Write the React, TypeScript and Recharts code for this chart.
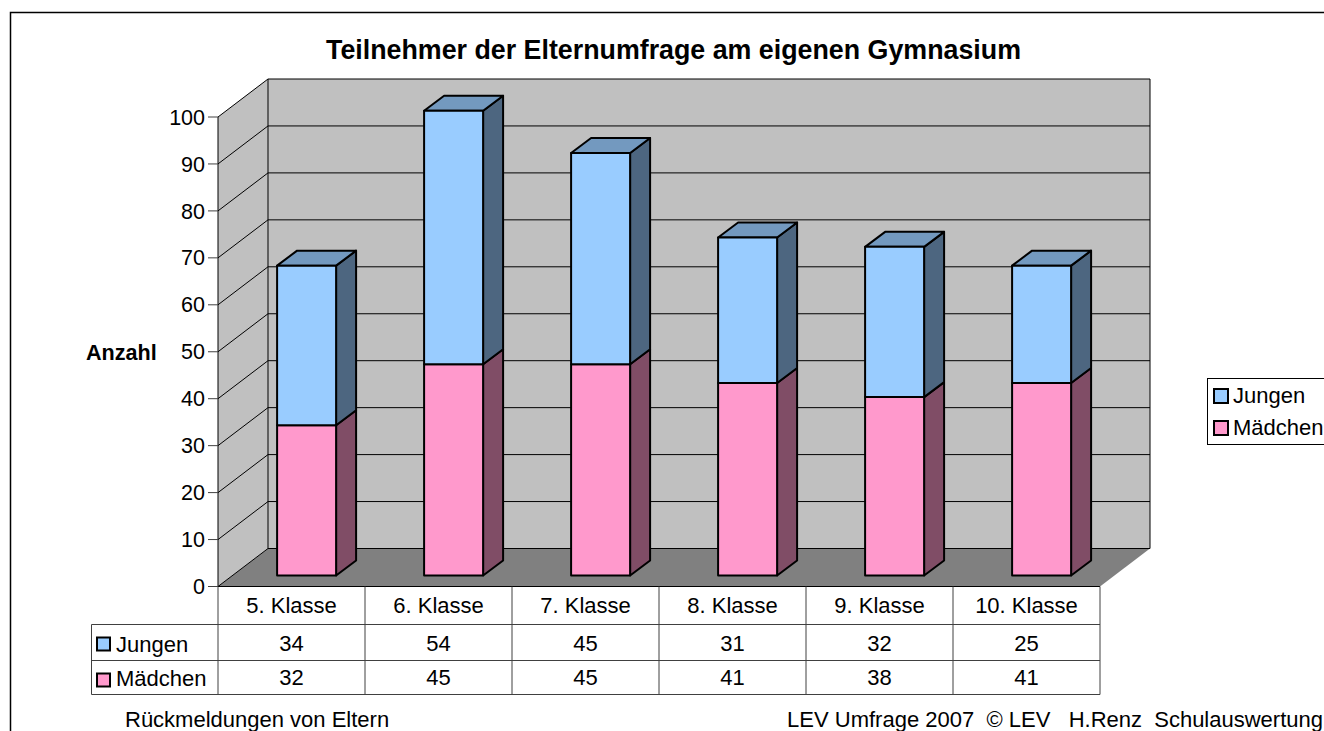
import { Bar, BarChart, CartesianGrid, Legend, XAxis, YAxis } from "recharts";

const categories = ["5. Klasse", "6. Klasse", "7. Klasse", "8. Klasse", "9. Klasse", "10. Klasse"];
const jungen = [34, 54, 45, 31, 32, 25];
const maedchen = [32, 45, 45, 41, 38, 41];
const yTicks = [0, 10, 20, 30, 40, 50, 60, 70, 80, 90, 100];

const chartData = categories.map((name, i) => ({ name, jungen: jungen[i], maedchen: maedchen[i] }));

const FONT = '"Liberation Sans", Arial, sans-serif';
const BLUE = "#99ccff";
const PINK = "#ff99cc";

// plot frame (front plane of the 3D box)
const LEFT = 218;
const RIGHT = 1100;
const TOP = 117;
const BOTTOM = 586.5;

// box depth, and where the bars sit inside it
const DEPTH_X = 50;
const DEPTH_Y = 38;
const BAR_SHIFT_X = 15;
const BAR_SHIFT_Y = 11;
const BAR_DEPTH_X = 20;
const BAR_DEPTH_Y = 15;

// data table rows
const ROW_1 = 624.5;
const ROW_2 = 660.5;
const ROW_3 = 694.5;
const TABLE_LEFT = 91.5;

const tableRows = [
  { label: "Jungen", color: BLUE, values: jungen, top: ROW_1, bottom: ROW_2 },
  { label: "Mädchen", color: PINK, values: maedchen, top: ROW_2, bottom: ROW_3 },
];

const pts = (list: number[][]) => list.map((p) => p.join(",")).join(" ");

function Walls() {
  const bx = LEFT + DEPTH_X;
  const rx = RIGHT + DEPTH_X;
  const ty = TOP - DEPTH_Y;
  const by = BOTTOM - DEPTH_Y;
  return (
    <g>
      <polygon points={pts([[LEFT, TOP], [bx, ty], [bx, by], [LEFT, BOTTOM]])} fill="#c0c0c0" />
      <rect x={bx} y={ty} width={RIGHT - LEFT} height={by - ty} fill="#c0c0c0" />
      <polygon points={pts([[LEFT, BOTTOM], [bx, by], [rx, by], [RIGHT, BOTTOM]])} fill="#808080" />
      <line x1={LEFT} y1={TOP} x2={LEFT} y2={BOTTOM} stroke="#000" />
      <line x1={bx} y1={ty} x2={bx} y2={by} stroke="#000" />
      <line x1={rx} y1={ty} x2={rx} y2={by} stroke="#000" />
      <line x1={LEFT} y1={BOTTOM} x2={RIGHT} y2={BOTTOM} stroke="#000" />
    </g>
  );
}

// each gridline runs back along the side wall and then across the back wall;
// the first one also paints the walls so they stay underneath the lines
function GridLine(props: any) {
  const { x1, x2, y1, index } = props;
  return (
    <g>
      {index === 0 && <Walls />}
      <polyline
        points={pts([[x1, y1], [x1 + DEPTH_X, y1 - DEPTH_Y], [x2 + DEPTH_X, y1 - DEPTH_Y]])}
        fill="none"
        stroke="#000"
        strokeWidth={1}
      />
    </g>
  );
}

function Box3D(props: any, color: string, side: string, top: string | null) {
  const { x, y, width, height } = props;
  const l = x + BAR_SHIFT_X;
  const r = l + width;
  const t = y - BAR_SHIFT_Y;
  const b = t + height;
  const dx = BAR_DEPTH_X;
  const dy = BAR_DEPTH_Y;
  return (
    <g stroke="#000" strokeWidth={2} strokeLinejoin="round">
      <polygon points={pts([[r, t], [r + dx, t - dy], [r + dx, b - dy], [r, b]])} fill={side} />
      {top && <polygon points={pts([[l, t], [l + dx, t - dy], [r + dx, t - dy], [r, t]])} fill={top} />}
      <rect x={l} y={t} width={width} height={height} fill={color} />
    </g>
  );
}

function TableTick(props: any) {
  const { x, payload, index } = props;
  const colW = (RIGHT - LEFT) / categories.length;
  return (
    <g fontFamily={FONT} fontSize={22} fill="#000" textAnchor="middle">
      <line x1={x + colW / 2} y1={BOTTOM} x2={x + colW / 2} y2={ROW_3} stroke="#404040" />
      <text x={x} y={613} stroke="none">{payload.value}</text>
      {tableRows.map((row) => (
        <text key={row.label} x={x} y={row.bottom - 10} stroke="none">
          {row.values[index]}
        </text>
      ))}
    </g>
  );
}

function TableFrame() {
  return (
    <g fontFamily={FONT} fontSize={22}>
      <line x1={LEFT} y1={BOTTOM} x2={LEFT} y2={ROW_3} stroke="#404040" />
      <line x1={TABLE_LEFT} y1={ROW_1} x2={TABLE_LEFT} y2={ROW_3} stroke="#404040" />
      <line x1={TABLE_LEFT} y1={ROW_1} x2={RIGHT} y2={ROW_1} stroke="#404040" />
      <line x1={TABLE_LEFT} y1={ROW_2} x2={RIGHT} y2={ROW_2} stroke="#404040" />
      <line x1={TABLE_LEFT} y1={ROW_3} x2={RIGHT} y2={ROW_3} stroke="#404040" />
      {tableRows.map((row) => (
        <g key={row.label}>
          <rect x={97} y={row.top + 13} width={13} height={13} fill={row.color} stroke="#000" strokeWidth={2} />
          <text x={116} y={row.bottom - 9} fill="#000">{row.label}</text>
        </g>
      ))}
    </g>
  );
}

function LegendBox({ payload }: any) {
  return (
    <div style={{ border: "1px solid #000", height: 65, width: 140, background: "#fff", boxSizing: "content-box" }}>
      {(payload ?? []).map((item: any, i: number) => (
        <div key={item.value} style={{ position: "absolute", left: 6, top: 6 + i * 32, display: "flex", alignItems: "center", height: 24 }}>
          <span style={{ width: 12, height: 12, border: "2px solid #000", background: item.color, marginRight: 4 }} />
          <span style={{ fontFamily: FONT, fontSize: 22, color: "#000" }}>{item.value}</span>
        </div>
      ))}
    </div>
  );
}

export default function App() {
  return (
    <div style={{ position: "absolute", left: 0, top: 0, width: 1324, height: 731, overflow: "hidden", background: "#fff" }}>
      <BarChart
        width={1324}
        height={731}
        data={chartData}
        barCategoryGap="30%"
        margin={{ top: TOP, left: 158, right: 1324 - RIGHT, bottom: 44.5 }}
      >
        {/* chart frame, cut off on the right and at the bottom */}
        <polyline points="10.5,731 10.5,12.5 1324,12.5" fill="none" stroke="#000" strokeWidth={1.5} />
        <text x={673.5} y={59} textAnchor="middle" fontFamily={FONT} fontSize={26.8} fontWeight="bold" fill="#000">
          Teilnehmer der Elternumfrage am eigenen Gymnasium
        </text>
        <text x={86} y={360} fontFamily={FONT} fontSize={21.6} fontWeight="bold" fill="#000">Anzahl</text>
        <text x={125} y={727} fontFamily={FONT} fontSize={22} fill="#000">Rückmeldungen von Eltern</text>
        <text x={1323} y={727} textAnchor="end" fontFamily={FONT} fontSize={22} fill="#000" xmlSpace="preserve">
          LEV Umfrage 2007  © LEV   H.Renz  Schulauswertung
        </text>
        <CartesianGrid vertical={false} horizontal={(p: any) => <GridLine key={p.key} {...p} />} />
        <TableFrame />
        <XAxis dataKey="name" height={100} axisLine={false} tickLine={false} interval={0} tick={(p: any) => <TableTick {...p} />} />
        <YAxis
          width={60}
          domain={[0, 100]}
          ticks={yTicks}
          interval={0}
          axisLine={false}
          tickSize={10}
          tickMargin={3}
          tickLine={{ stroke: "#404040" }}
          tick={{ fill: "#000", fontFamily: FONT, fontSize: 21.5 }}
        />
        <Legend
          layout="vertical"
          align="center"
          verticalAlign="middle"
          content={LegendBox}
          wrapperStyle={{ left: 1207, top: 378, width: 141 }}
        />
        <Bar
          dataKey="maedchen"
          name="Mädchen"
          stackId="a"
          fill={PINK}
          isAnimationActive={false}
          shape={(p: any) => Box3D(p, PINK, "#804d66", null)}
        />
        <Bar
          dataKey="jungen"
          name="Jungen"
          stackId="a"
          fill={BLUE}
          isAnimationActive={false}
          shape={(p: any) => Box3D(p, BLUE, "#4d6680", "#7399bf")}
        />
      </BarChart>
    </div>
  );
}
